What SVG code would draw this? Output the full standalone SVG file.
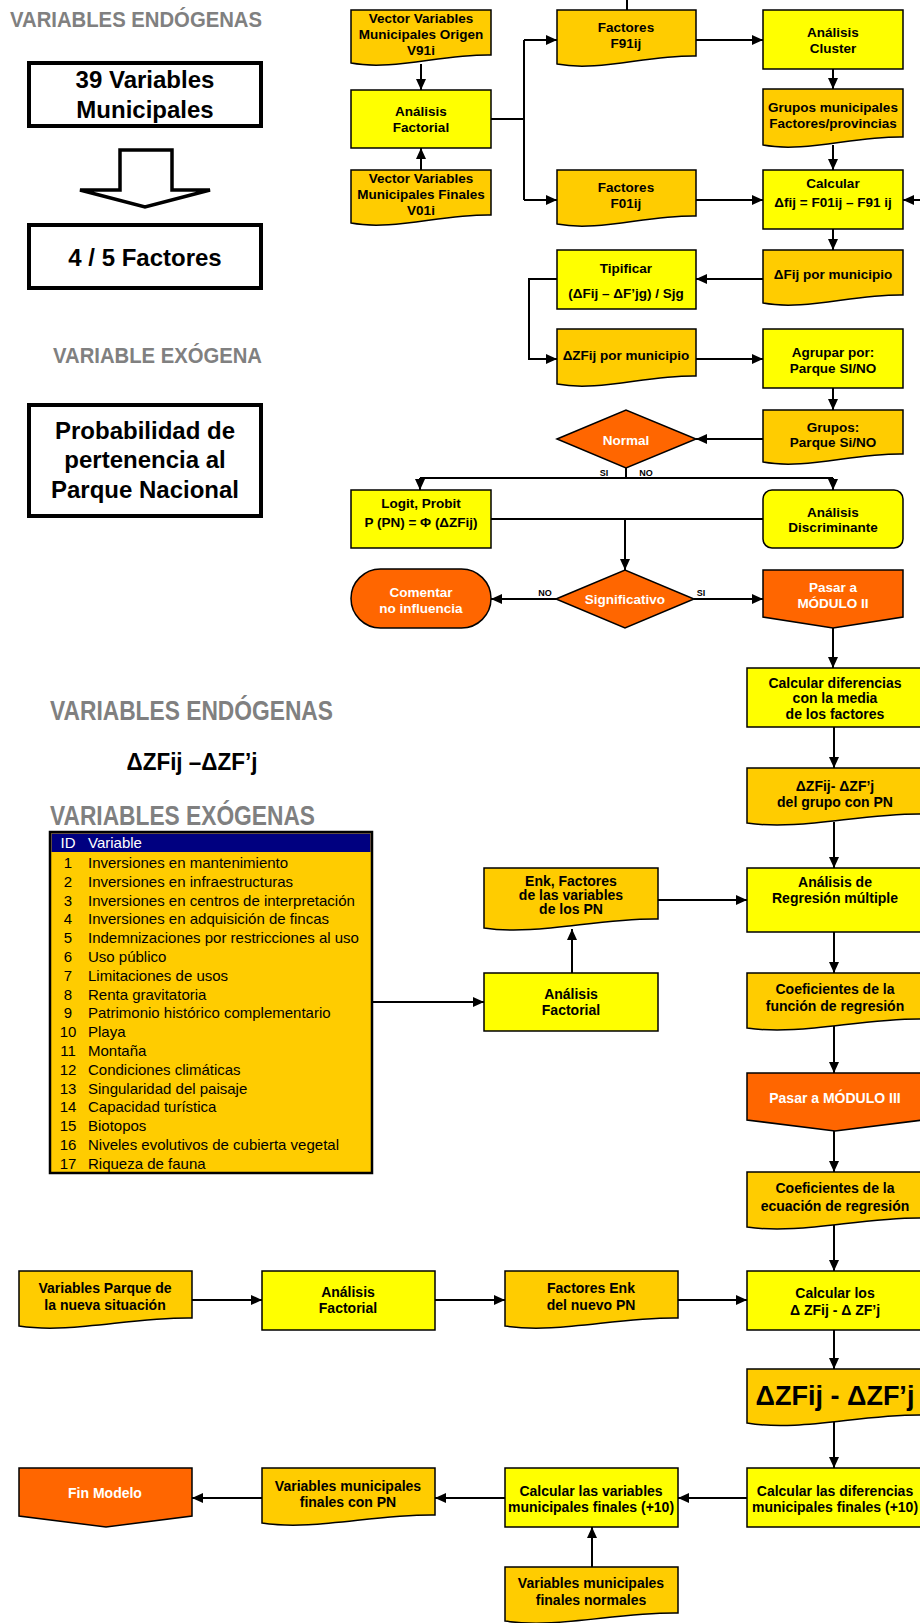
<svg xmlns="http://www.w3.org/2000/svg" width="920" height="1623" viewBox="0 0 920 1623">
<style>
text{font-family:"Liberation Sans",Arial,sans-serif;font-weight:bold;fill:#000;text-anchor:middle}
.s{font-size:13.5px}
.m{font-size:14px}
.w{fill:#fff}
.lbl{font-size:9px}
.ttl{fill:#808080;text-anchor:start}
.big{font-size:24px}
.proc{fill:#FFFF00;stroke:#000;stroke-width:1.5}
.doc{fill:#FFCC00;stroke:#000;stroke-width:1.5}
.red{fill:#FF6600;stroke:#000;stroke-width:1.5}
.frame{fill:#fff;stroke:#000;stroke-width:4}
.c{fill:none;stroke:#000;stroke-width:2}
.ca{fill:none;stroke:#000;stroke-width:2;marker-end:url(#ah)}
.tb{font-weight:normal;font-size:15px;text-anchor:start}
.id{font-weight:normal;font-size:15px}
</style>
<defs>
<marker id="ah" markerUnits="userSpaceOnUse" markerWidth="11" markerHeight="10" refX="11" refY="5" orient="auto">
<path d="M0,0 L11,5 L0,10 Z" fill="#000"/>
</marker>
</defs>

<!-- Left legend -->
<g id="legend-top">
<text class="ttl" x="10" y="27" font-size="22" textLength="252" lengthAdjust="spacingAndGlyphs">VARIABLES ENDÓGENAS</text>
<rect class="frame" x="29" y="63" width="232" height="63"/>
<text class="big" x="145" y="88">39 Variables</text>
<text class="big" x="145" y="118">Municipales</text>
<polygon points="120,150 172,150 172,190 210,190 145,207 80,190 120,190" fill="#fff" stroke="#000" stroke-width="3.5" stroke-linejoin="miter"/>
<rect class="frame" x="29" y="225" width="232" height="63"/>
<text class="big" x="145" y="266">4 / 5 Factores</text>
<text class="ttl" x="53" y="363" font-size="22" textLength="209" lengthAdjust="spacingAndGlyphs">VARIABLE EXÓGENA</text>
<rect class="frame" x="29" y="405" width="232" height="111"/>
<text class="big" x="145" y="439">Probabilidad de</text>
<text class="big" x="145" y="468">pertenencia al</text>
<text class="big" x="145" y="498">Parque Nacional</text>
</g>

<g id="legend-mid">
<text class="ttl" x="50" y="720" font-size="27" textLength="283" lengthAdjust="spacingAndGlyphs">VARIABLES ENDÓGENAS</text>
<text x="192" y="770" font-size="23" textLength="131" lengthAdjust="spacingAndGlyphs">ΔZFij –ΔZF’j</text>
<text class="ttl" x="50" y="825" font-size="27" textLength="265" lengthAdjust="spacingAndGlyphs">VARIABLES EXÓGENAS</text>
</g>

<g id="table">
<rect x="50" y="832" width="322" height="341" fill="#FFCC00" stroke="#000" stroke-width="2.5"/>
<rect x="51.5" y="833.5" width="319" height="18.5" fill="#000080"/>
<text class="id w" x="68" y="848">ID</text>
<text class="tb w" x="88" y="848">Variable</text>
<text class="id" x="68" y="868">1</text><text class="tb" x="88" y="868">Inversiones en mantenimiento</text>
<text class="id" x="68" y="886.8">2</text><text class="tb" x="88" y="886.8">Inversiones en infraestructuras</text>
<text class="id" x="68" y="905.6">3</text><text class="tb" x="88" y="905.6">Inversiones en centros de interpretación</text>
<text class="id" x="68" y="924.4">4</text><text class="tb" x="88" y="924.4">Inversiones en adquisición de fincas</text>
<text class="id" x="68" y="943.2">5</text><text class="tb" x="88" y="943.2">Indemnizaciones por restricciones al uso</text>
<text class="id" x="68" y="962">6</text><text class="tb" x="88" y="962">Uso público</text>
<text class="id" x="68" y="980.8">7</text><text class="tb" x="88" y="980.8">Limitaciones de usos</text>
<text class="id" x="68" y="999.6">8</text><text class="tb" x="88" y="999.6">Renta gravitatoria</text>
<text class="id" x="68" y="1018.4">9</text><text class="tb" x="88" y="1018.4">Patrimonio histórico  complementario</text>
<text class="id" x="68" y="1037.2">10</text><text class="tb" x="88" y="1037.2">Playa</text>
<text class="id" x="68" y="1056">11</text><text class="tb" x="88" y="1056">Montaña</text>
<text class="id" x="68" y="1074.8">12</text><text class="tb" x="88" y="1074.8">Condiciones climáticas</text>
<text class="id" x="68" y="1093.6">13</text><text class="tb" x="88" y="1093.6">Singularidad del paisaje</text>
<text class="id" x="68" y="1112.4">14</text><text class="tb" x="88" y="1112.4">Capacidad turística</text>
<text class="id" x="68" y="1131.2">15</text><text class="tb" x="88" y="1131.2">Biotopos</text>
<text class="id" x="68" y="1150">16</text><text class="tb" x="88" y="1150">Niveles evolutivos de cubierta vegetal</text>
<text class="id" x="68" y="1168.8">17</text><text class="tb" x="88" y="1168.8">Riqueza de fauna</text>
</g>

<!-- Connectors -->
<g id="connectors">
<path class="c" d="M627,0 V10"/>
<path class="ca" d="M421,64 V90"/>
<path class="ca" d="M421,170 V148"/>
<path class="c" d="M491,119 H524 M524,40 V200"/>
<path class="ca" d="M524,40 H557"/>
<path class="ca" d="M524,200 H557"/>
<path class="ca" d="M696,40 H763"/>
<path class="ca" d="M833,69 V89"/>
<path class="ca" d="M833,145 V170"/>
<path class="ca" d="M696,200 H763"/>
<path class="ca" d="M922,200 H903"/>
<path class="ca" d="M833,229 V250"/>
<path class="ca" d="M763,279 H696"/>
<path class="ca" d="M557,279 H529 V359 H557"/>
<path class="ca" d="M696,359 H763"/>
<path class="ca" d="M833,388 V410"/>
<path class="ca" d="M763,439 H696"/>
<path class="c" d="M626,468 V478 M420,478 H833"/>
<path class="ca" d="M420,478 V490"/>
<path class="ca" d="M833,478 V490"/>
<path class="c" d="M491,519 H763"/>
<path class="ca" d="M625,519 V570"/>
<path class="ca" d="M556,599 H491"/>
<path class="ca" d="M694,599 H763"/>
<path class="ca" d="M833,628 V668"/>
<path class="ca" d="M834,727 V768"/>
<path class="ca" d="M834,822 V868"/>
<path class="ca" d="M658,900 H747"/>
<path class="ca" d="M572,973 V929"/>
<path class="ca" d="M372,1002 H484"/>
<path class="ca" d="M834,932 V973"/>
<path class="ca" d="M834,1026 V1073"/>
<path class="ca" d="M834,1131 V1172"/>
<path class="ca" d="M834,1225 V1271"/>
<path class="ca" d="M192,1300 H262"/>
<path class="ca" d="M435,1300 H505"/>
<path class="ca" d="M678,1300 H747"/>
<path class="ca" d="M834,1330 V1369"/>
<path class="ca" d="M834,1421 V1468"/>
<path class="ca" d="M747,1498 H678"/>
<path class="ca" d="M505,1498 H435"/>
<path class="ca" d="M262,1498 H192"/>
<path class="ca" d="M592,1567 V1527"/>
<text class="lbl" x="604" y="476">SI</text>
<text class="lbl" x="646" y="476">NO</text>
<text class="lbl" x="545" y="596">NO</text>
<text class="lbl" x="701" y="596">SI</text>
</g>

<!-- Nodes -->
<g id="n-vector-origen"><path class="doc" d="M351,10 H491 V55 C442,54 393,71 351,63 Z"/>
<text class="s" x="421" y="23">Vector Variables</text><text class="s" x="421" y="39">Municipales Origen</text><text class="s" x="421" y="55">V91i</text></g>

<g id="n-af-top"><rect class="proc" x="351" y="90" width="140" height="58"/>
<text class="s" x="421" y="116">Análisis</text><text class="s" x="421" y="132">Factorial</text></g>

<g id="n-vector-finales"><path class="doc" d="M351,170 H491 V215 C442,214 393,231 351,223 Z"/>
<text class="s" x="421" y="183">Vector Variables</text><text class="s" x="421" y="199">Municipales Finales</text><text class="s" x="421" y="215">V01i</text></g>

<g id="n-f91"><path class="doc" d="M557,10 H696 V56 C647,55 599,72 557,64 Z"/>
<text class="s" x="626" y="32">Factores</text><text class="s" x="626" y="48">F91ij</text></g>

<g id="n-f01"><path class="doc" d="M557,170 H696 V216 C647,215 599,232 557,224 Z"/>
<text class="s" x="626" y="192">Factores</text><text class="s" x="626" y="208">F01ij</text></g>

<g id="n-cluster"><rect class="proc" x="763" y="10" width="140" height="59"/>
<text class="s" x="833" y="37">Análisis</text><text class="s" x="833" y="53">Cluster</text></g>

<g id="n-grupos-mun"><path class="doc" d="M763,89 H903 V137 C854,136 805,153 763,145 Z"/>
<text class="s" x="833" y="112">Grupos municipales</text><text class="s" x="833" y="128">Factores/provincias</text></g>

<g id="n-calcular"><rect class="proc" x="763" y="170" width="140" height="59"/>
<text class="s" x="833" y="188">Calcular</text><text class="s" x="833" y="207">Δfij = F01ij – F91 ij</text></g>

<g id="n-dfij"><path class="doc" d="M763,250 H903 V295 C854,294 805,311 763,303 Z"/>
<text class="s" x="833" y="279">ΔFij por municipio</text></g>

<g id="n-tipificar"><rect class="proc" x="557" y="250" width="139" height="59"/>
<text class="s" x="626" y="273">Tipificar</text><text class="s" x="626" y="298">(ΔFij – ΔF’jg) / Sjg</text></g>

<g id="n-dzfij"><path class="doc" d="M557,329 H696 V376 C647,375 599,392 557,384 Z"/>
<text class="s" x="626" y="360">ΔZFij por municipio</text></g>

<g id="n-agrupar"><rect class="proc" x="763" y="329" width="140" height="59"/>
<text class="s" x="833" y="357">Agrupar por:</text><text class="s" x="833" y="373">Parque SI/NO</text></g>

<g id="n-grupos-parque"><path class="doc" d="M763,410 H903 V454 C854,453 805,470 763,462 Z"/>
<text class="s" x="833" y="432">Grupos:</text><text class="s" x="833" y="447">Parque Si/NO</text></g>

<g id="n-normal"><path class="red" d="M557,439 L626,410 L696,439 L626,468 Z"/>
<text class="s w" x="626" y="445">Normal</text></g>

<g id="n-logit"><rect class="proc" x="351" y="490" width="140" height="58"/>
<text class="s" x="421" y="508">Logit, Probit</text><text class="s" x="421" y="527">P (PN) = Φ (ΔZFij)</text></g>

<g id="n-discriminante"><rect class="proc" x="763" y="490" width="140" height="58" rx="9"/>
<text class="s" x="833" y="517">Análisis</text><text class="s" x="833" y="532">Discriminante</text></g>

<g id="n-significativo"><path class="red" d="M556,599 L625,570 L694,599 L625,628 Z"/>
<text class="s w" x="625" y="604">Significativo</text></g>

<g id="n-comentar"><rect class="red" x="351" y="569" width="140" height="59" rx="29.5"/>
<text class="s w" x="421" y="597">Comentar</text><text class="s w" x="421" y="613">no influencia</text></g>

<g id="n-modulo2"><path class="red" d="M763,570 H903 V617 L833,628 L763,617 Z"/>
<text class="s w" x="833" y="592">Pasar a</text><text class="s w" x="833" y="608">MÓDULO II</text></g>

<g id="n-calc-dif"><rect class="proc" x="747" y="668" width="176" height="59"/>
<text class="m" x="835" y="688">Calcular diferencias</text><text class="m" x="835" y="703">con la media</text><text class="m" x="835" y="719">de los factores</text></g>

<g id="n-dzf-grupo"><path class="doc" d="M747,768 H923 V814 C861,813 800,831 747,823 Z"/>
<text class="m" x="835" y="791">ΔZFij- ΔZF’j</text><text class="m" x="835" y="807">del grupo con PN</text></g>

<g id="n-regresion"><rect class="proc" x="747" y="868" width="176" height="64"/>
<text class="m" x="835" y="887">Análisis de</text><text class="m" x="835" y="903">Regresión múltiple</text></g>

<g id="n-enk"><path class="doc" d="M484,868 H658 V919 C597,918 536,936 484,928 Z"/>
<text class="m" x="571" y="886">Enk, Factores</text><text class="m" x="571" y="900">de las variables</text><text class="m" x="571" y="914">de los PN</text></g>

<g id="n-af-mid"><rect class="proc" x="484" y="973" width="174" height="58"/>
<text class="m" x="571" y="999">Análisis</text><text class="m" x="571" y="1015">Factorial</text></g>

<g id="n-coef-funcion"><path class="doc" d="M747,973 H923 V1019 C861,1018 800,1036 747,1028 Z"/>
<text class="m" x="835" y="994">Coeficientes de la</text><text class="m" x="835" y="1011">función de regresión</text></g>

<g id="n-modulo3"><path class="red" d="M747,1073 H923 V1120 L835,1131 L747,1120 Z"/>
<text class="m w" x="835" y="1103">Pasar a MÓDULO III</text></g>

<g id="n-coef-ecuacion"><path class="doc" d="M747,1172 H923 V1218 C861,1217 800,1235 747,1227 Z"/>
<text class="m" x="835" y="1193">Coeficientes de la</text><text class="m" x="835" y="1211">ecuación de regresión</text></g>

<g id="n-var-parque"><path class="doc" d="M19,1271 H192 V1318 C131,1317 71,1334 19,1326 Z"/>
<text class="m" x="105" y="1293">Variables Parque de</text><text class="m" x="105" y="1310">la nueva situación</text></g>

<g id="n-af-bottom"><rect class="proc" x="262" y="1271" width="173" height="59"/>
<text class="m" x="348" y="1297">Análisis</text><text class="m" x="348" y="1313">Factorial</text></g>

<g id="n-factores-enk"><path class="doc" d="M505,1271 H678 V1318 C617,1317 557,1334 505,1326 Z"/>
<text class="m" x="591" y="1293">Factores Enk</text><text class="m" x="591" y="1310">del nuevo PN</text></g>

<g id="n-calc-los"><rect class="proc" x="747" y="1271" width="176" height="59"/>
<text class="m" x="835" y="1298">Calcular los</text><text class="m" x="835" y="1315">Δ ZFij - Δ ZF’j</text></g>

<g id="n-big"><path class="doc" d="M747,1369 H923 V1415 C861,1414 800,1432 747,1423 Z"/>
<text x="835" y="1405" font-size="27">ΔZFij - ΔZF’j</text></g>

<g id="n-calc-dif-fin"><rect class="proc" x="747" y="1468" width="176" height="59"/>
<text class="m" x="835" y="1496">Calcular las diferencias</text><text class="m" x="835" y="1512">municipales finales (+10)</text></g>

<g id="n-calc-var-fin"><rect class="proc" x="505" y="1468" width="173" height="59"/>
<text class="m" x="591" y="1496">Calcular las variables</text><text class="m" x="591" y="1512">municipales finales (+10)</text></g>

<g id="n-var-con-pn"><path class="doc" d="M262,1468 H435 V1515 C374,1514 314,1531 262,1523 Z"/>
<text class="m" x="348" y="1491">Variables municipales</text><text class="m" x="348" y="1507">finales con PN</text></g>

<g id="n-fin"><path class="red" d="M19,1468 H192 V1516 L106,1527 L19,1516 Z"/>
<text class="m w" x="105" y="1498">Fin Modelo</text></g>

<g id="n-normales"><path class="doc" d="M505,1567 H678 V1613 C617,1612 557,1629 505,1621 Z"/>
<text class="m" x="591" y="1588">Variables municipales</text><text class="m" x="591" y="1605">finales normales</text></g>
</svg>
